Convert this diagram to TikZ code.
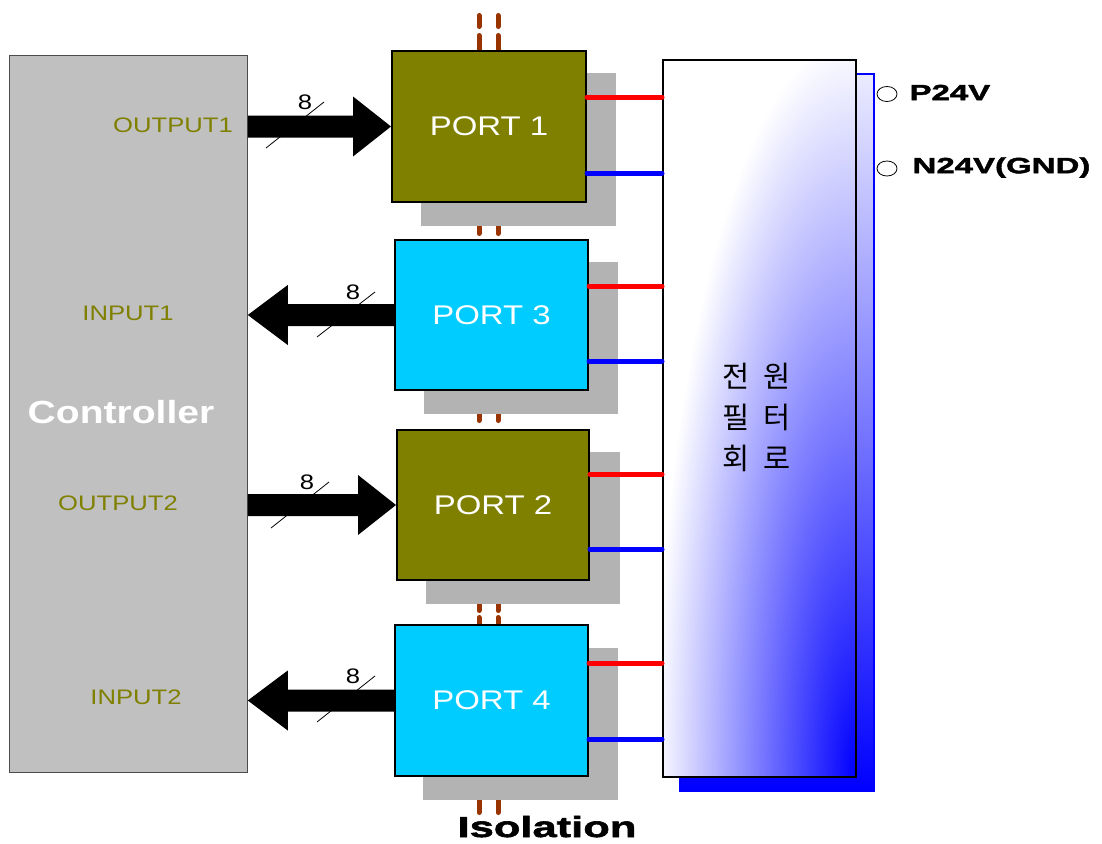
\documentclass[tikz,border=0pt]{standalone}
\usepackage{fontspec}
\setmainfont{Liberation Sans}
\newfontfamily\lbl{Liberation Sans}[FakeStretch=1.22]
\newfontfamily\heavy{Liberation Sans}[FakeStretch=1.5,BoldFeatures={FakeBold=2}]
\newfontfamily\kor{Noto Sans CJK KR}
\usetikzlibrary{calc,shapes.geometric}
\definecolor{olivebox}{RGB}{128,128,0}
\definecolor{cyanbox}{RGB}{0,204,255}
\definecolor{shadowgray}{RGB}{179,179,179}
\definecolor{ctrlgray}{RGB}{192,192,192}
\definecolor{isocol}{RGB}{153,51,0}
\definecolor{oltext}{RGB}{128,128,0}
\begin{document}
\begin{tikzpicture}[x=1pt,y=-1pt,
  portbox/.style={draw=black,line width=2pt,minimum width=194pt,minimum height=151pt,
    inner sep=0pt,anchor=north west,text=white,font=\lbl\fontsize{27}{30}\selectfont},
  shadowbox/.style={fill=shadowgray},
  isoline/.style={draw=isocol,line width=5pt,line cap=round},
  redline/.style={draw=red,line width=5pt,line cap=round},
  blueline/.style={draw=blue,line width=5pt,line cap=round},
  iolabel/.style={text=oltext,font=\lbl\fontsize{21}{24}\selectfont},
  buslabel/.style={font=\lbl\fontsize{21}{24}\selectfont},
  slash/.style={draw=black,line width=0.8pt},
  terminal/.style={draw=black,line width=0.8pt,fill=white,ellipse,minimum width=20pt,minimum height=15pt,inner sep=0pt},
  heavytext/.style={font=\heavy\bfseries\fontsize{22}{26}\selectfont,anchor=west},
  fatR/.style={to path={let \p1=(\tikztostart), \p2=(\tikztotarget) in
     (\x1,\y1+11pt) -- (\x2-38pt,\y1+11pt) -- (\x2-38pt,\y1+30pt) -- (\x2,\y1)
     -- (\x2-38pt,\y1-30pt) -- (\x2-38pt,\y1-11pt) -- (\x1,\y1-11pt) -- cycle}},
  fatL/.style={to path={let \p1=(\tikztostart), \p2=(\tikztotarget) in
     (\x1,\y1+11pt) -- (\x2+40pt,\y1+11pt) -- (\x2+40pt,\y1+30pt) -- (\x2,\y1)
     -- (\x2+40pt,\y1-30pt) -- (\x2+40pt,\y1-11pt) -- (\x1,\y1-11pt) -- cycle}},
]
\useasboundingbox (0,0) rectangle (1102,843);
\fill[white] (0,0) rectangle (1102,843);

% isolation barrier (behind everything)
\foreach \xx in {479,498}{
  \draw[isoline] (\xx,15.5) -- (\xx,26.5);
  \draw[isoline] (\xx,35.5) -- (\xx,55);
  \draw[isoline] (\xx,220) -- (\xx,233.5);
  \draw[isoline] (\xx,408) -- (\xx,420.5);
  \draw[isoline] (\xx,598) -- (\xx,610.5);
  \draw[isoline] (\xx,617.5) -- (\xx,630);
  \draw[isoline] (\xx,795) -- (\xx,812.5);
}

% controller
\node[draw=black!70,line width=0.8pt,fill=ctrlgray,minimum width=238pt,minimum height=717pt,
  inner sep=0pt,anchor=north west] (ctrl) at (9,55) {};
\node[text=white,font=\lbl\bfseries\fontsize{32}{36}\selectfont] (ctrltxt) at (121,412) {Controller};
\node[iolabel] (lo1) at (173,125) {OUTPUT1};
\node[iolabel] (li1) at (128,313) {INPUT1};
\node[iolabel] (lo2) at (118,503) {OUTPUT2};
\node[iolabel] (li2) at (136,697) {INPUT2};

% port shadows
\fill[shadowbox] (421,73) rectangle (616,226);
\fill[shadowbox] (424,262) rectangle (618,414);
\fill[shadowbox] (426,452) rectangle (620,604);
\fill[shadowbox] (423,648) rectangle (618,800);

% ports
\node[portbox,fill=olivebox] (p1) at (391,50) {PORT 1};
\node[portbox,fill=cyanbox,minimum width=193pt,minimum height=150pt] (p3) at (394,239) {PORT 3};
\node[portbox,fill=olivebox,minimum width=192pt,minimum height=150pt] (p2) at (396,429) {PORT 2};
\node[portbox,fill=cyanbox,minimum width=193pt] (p4) at (394,624) {PORT 4};

% filter shadow
\shade[top color=blue!8,middle color=blue!45,bottom color=blue,draw=blue,line width=2pt]
  (680,74) rectangle (874,791);
% filter body
\fill[white] (662,59) rectangle (855,776);
\begin{scope}
  \clip (662,59) rectangle (855,776);
  \shade[inner color=blue,outer color=white] (855,776) ellipse [x radius=200pt,y radius=740pt];
\end{scope}
\node[draw=black,line width=2pt,minimum width=193pt,minimum height=717pt,inner sep=0pt,
  anchor=north west] (filt) at (662,59) {};
\node[font=\kor\fontsize{29.5}{41}\selectfont,align=center,text=black] (filttxt) at (757,417)
  {전\hspace{14pt}원\\필\hspace{14pt}터\\회\hspace{14pt}로};

% supply lines port -> filter
\draw[redline]  (p1.east |- 0,97)  -- (filt.west |- 0,97);
\draw[blueline] (p1.east |- 0,173) -- (filt.west |- 0,173);
\draw[redline]  (p3.east |- 0,286) -- (filt.west |- 0,286);
\draw[blueline] (p3.east |- 0,361) -- (filt.west |- 0,361);
\draw[redline]  (p2.east |- 0,474) -- (filt.west |- 0,474);
\draw[blueline] (p2.east |- 0,549) -- (filt.west |- 0,549);
\draw[redline]  (p4.east |- 0,663) -- (filt.west |- 0,663);
\draw[blueline] (p4.east |- 0,739) -- (filt.west |- 0,739);

% terminals
\node[terminal] (tp) at (887,94) {};
\node[terminal] (tn) at (887,168.5) {};
\node[heavytext] (ptxt) at (906,92.5) {P24V};
\node[heavytext] (ntxt) at (909,167.5) {N24V(GND)};

% bus arrows
\fill (ctrl.east |- p1.west) to[fatR] (p1.west);
\fill (p3.west) to[fatL] (ctrl.east |- p3.west);
\fill (ctrl.east |- p2.west) to[fatR] (p2.west);
\fill (p4.west) to[fatL] (ctrl.east |- p4.west);

% bus width marks
\draw[slash] (266,148) -- (324,102);
\node[buslabel] (b1) at (305,102) {8};
\draw[slash] (317,337) -- (375,292);
\node[buslabel] (b3) at (353,292) {8};
\draw[slash] (271,528) -- (329,482);
\node[buslabel] (b2) at (307,482) {8};
\draw[slash] (317,722) -- (375,676);
\node[buslabel] (b4) at (353,676) {8};

% isolation label
\node[font=\heavy\bfseries\fontsize{29}{32}\selectfont,anchor=base,inner sep=0pt] (isotxt) at (547,837) {Isolation};
\end{tikzpicture}
\end{document}
